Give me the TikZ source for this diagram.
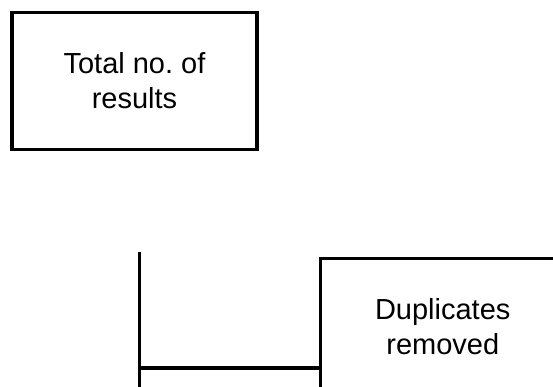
\documentclass[tikz,border=0pt]{standalone}
\usepackage{fontspec}
\setmainfont{Liberation Sans}
\frenchspacing
\tikzset{
  stagebox/.style={
    draw,line width=3.5pt,
    minimum width=245pt,minimum height=137pt,
    align=center,font=\fontsize{29}{35}\selectfont
  },
  flowline/.style={line width=3.5pt}
}

\begin{document}
\begin{tikzpicture}[x=1pt,y=-1pt]
\useasboundingbox (0,0) rectangle (553,387);
\clip (0,0) rectangle (553,387);
\node[stagebox] (total) at (134.5,81) {Total no. of\\results};
\node[stagebox,anchor=north west] (dup) at (318.5,256.5) {Duplicates\\removed};
\coordinate (trunktop) at (139.5,252);
\coordinate (trunkend) at (139.5,400);
\coordinate (branch) at (139.5,368);
\draw[flowline] (trunktop) -- (trunkend);
\draw[flowline] (branch) -- (branch -| dup.west);
\end{tikzpicture}
\end{document}
